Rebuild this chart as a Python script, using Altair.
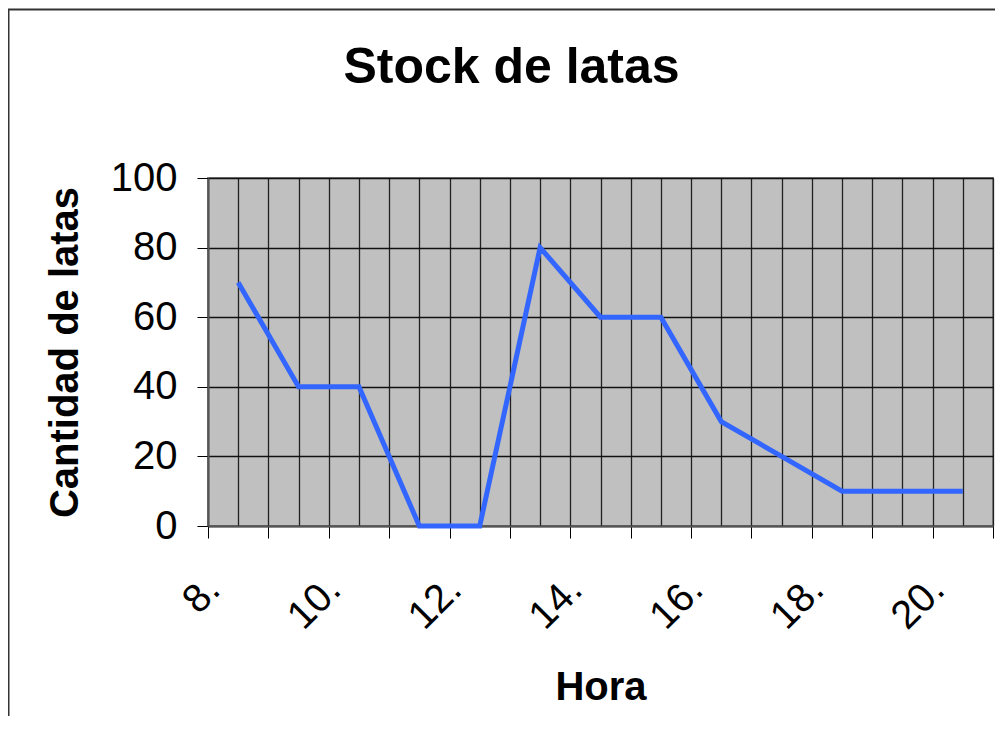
import altair as alt
import pandas as pd

titulo = "Stock de latas"
eje_x = "Hora"
eje_y = "Cantidad de latas"
horas = [8.5, 9.5, 10.5, 11.5, 12.5, 13.5, 14.5, 15.5, 16.5, 17.5, 18.5, 19.5, 20.5]
latas = [70, 40, 40, 0, 0, 80, 60, 60, 30, 20, 10, 10, 10]
x_ticks = [8, 8.5, 9, 9.5, 10, 10.5, 11, 11.5, 12, 12.5, 13, 13.5, 14, 14.5,
           15, 15.5, 16, 16.5, 17, 17.5, 18, 18.5, 19, 19.5, 20, 20.5, 21]
y_ticks = [0, 20, 40, 60, 80, 100]

FONT = "Liberation Sans"
W, H = 785, 348

df = pd.DataFrame({"hora": horas, "latas": latas})

line = alt.Chart(df).mark_line(color="#3366FF", strokeWidth=5).encode(
    x=alt.X(
        "hora:Q",
        scale=alt.Scale(domain=[8, 21], nice=False, zero=False),
        axis=alt.Axis(
            values=x_ticks,
            title=eje_x,
            titleFont=FONT, titleFontSize=40, titleFontWeight="bold", titleColor="black",
            titleBaseline="alphabetic", titleY=173,
            labelExpr="datum.value % 2 == 0 ? datum.value + '.' : ''",
            labelFont=FONT, labelFontSize=40, labelColor="black",
            labelAngle=-45, labelAlign="right", labelBaseline="middle",
            labelPadding=45, labelOffset=5,
            labelOverlap=False, labelFlush=False, labelBound=False,
            tickSize=12, tickColor="black", tickWidth=1,
            tickOpacity={"condition": {"test": "datum.value % 1 == 0", "value": 1}, "value": 0},
            grid=True, gridColor="#222222", gridWidth=1.3,
            domainColor="#555555", domainWidth=2,
        ),
    ),
    y=alt.Y(
        "latas:Q",
        scale=alt.Scale(domain=[0, 100], nice=False),
        axis=alt.Axis(
            values=y_ticks,
            title=eje_y,
            titleFont=FONT, titleFontSize=40, titleFontWeight="bold", titleColor="black",
            titleBaseline="alphabetic", titleX=-131, titleAngle=-90,
            labelFont=FONT, labelFontSize=40, labelColor="black",
            labelPadding=20,
            tickSize=11, tickColor="black", tickWidth=1,
            grid=True, gridColor="#111111", gridWidth=1.3,
            domainColor="#555555", domainWidth=2,
        ),
    ),
)

frame = alt.Chart(pd.DataFrame({"k": [0]})).mark_rect(
    fillOpacity=0, stroke="#333333", strokeWidth=2
).encode(
    x=alt.value(-199.5), x2=alt.value(W + 60),
    y=alt.value(-168.5), y2=alt.value(H + 260),
)

title = alt.Chart(pd.DataFrame({"t": [titulo]})).mark_text(
    font=FONT, fontSize=50, fontWeight="bold", color="black",
    align="center", baseline="alphabetic",
).encode(
    x=alt.value(303.5), y=alt.value(-95), text="t:N"
)

chart = alt.layer(frame, line, title).properties(
    width=W, height=H,
    padding={"left": 200, "top": 170, "right": 2, "bottom": 190},
    autosize="none",
).configure(
    background="white"
).configure_view(
    fill="#C0C0C0", stroke="#808080", strokeWidth=2
)

chart.save("out.html", embed_options={"renderer": "svg", "actions": False})
